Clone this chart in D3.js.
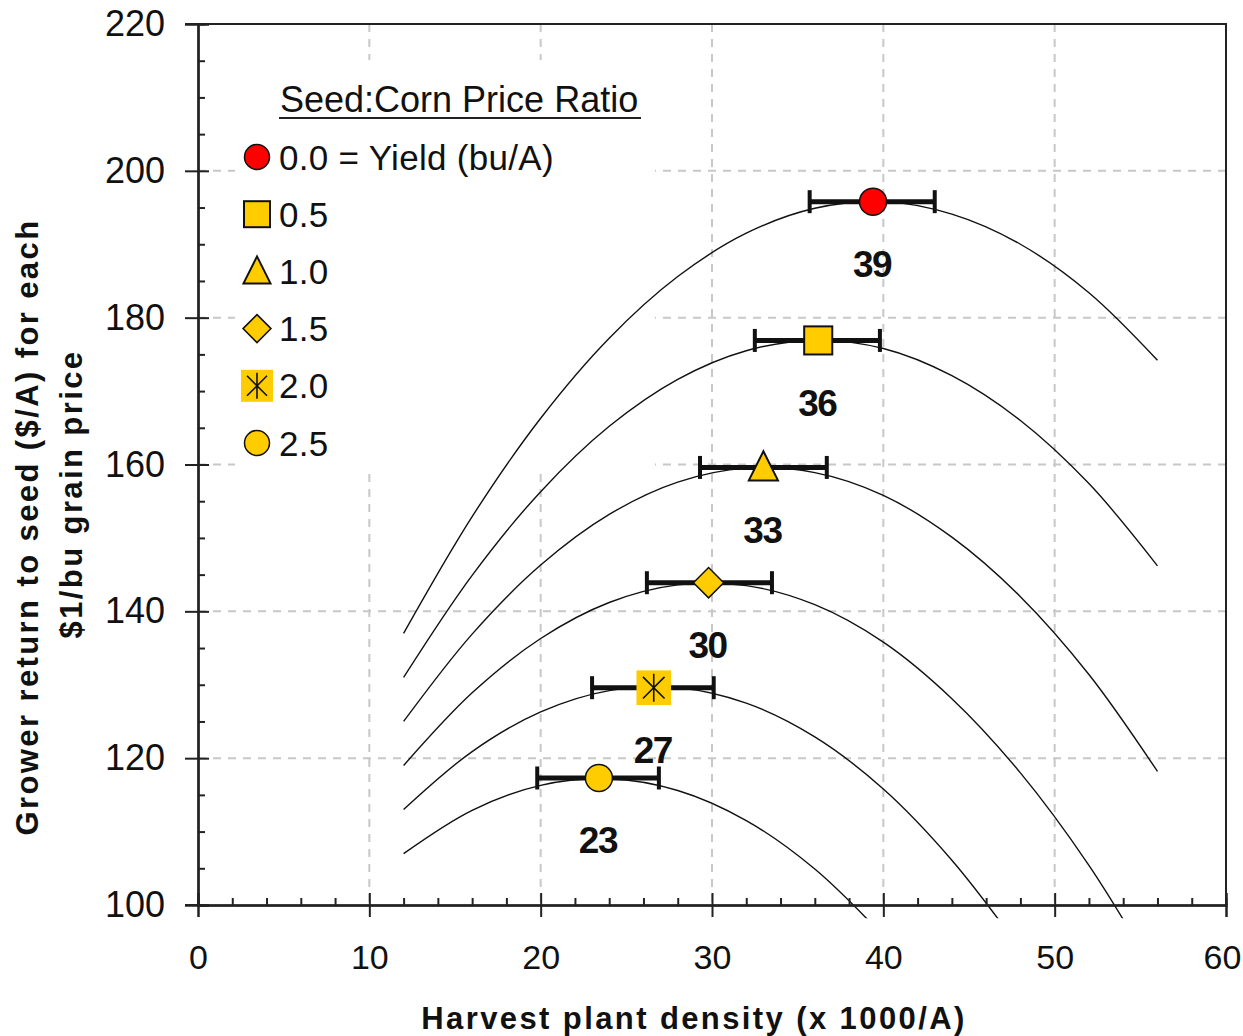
<!DOCTYPE html>
<html>
<head>
<meta charset="utf-8">
<script src="https://cdn.jsdelivr.net/npm/d3@7"></script>
<style>
  html, body { margin: 0; padding: 0; background: #fff; }
  svg { display: block; }
  text { font-family: "Liberation Sans", Arial, sans-serif; fill: #111; }
</style>
</head>
<body>
<svg id="chart" width="1243" height="1036"></svg>
<script>
// Harvest plant density (x 1000/A) where each return curve is sampled
const density = [12, 16, 20, 24, 28, 32, 36, 40, 44, 48, 52, 56];

// Grower return to seed ($/A per $1/bu grain) for each seed:corn price ratio
const return00 = [137.0, 152.9, 166.3, 177.2, 185.6, 191.5, 194.9, 195.8, 194.1, 190.0, 183.4, 174.2];
const return05 = [131.0, 144.9, 156.3, 165.2, 171.6, 175.5, 176.9, 175.8, 172.1, 166.0, 157.4, 146.2];
const return10 = [125.0, 136.9, 146.3, 153.2, 157.6, 159.5, 158.9, 155.8, 150.1, 142.0, 131.4, 118.2];
const return15 = [119.0, 128.9, 136.3, 141.2, 143.6, 143.5, 140.9, 135.8, 128.1, 118.0, 105.4, 90.2];
const return20 = [113.0, 120.9, 126.3, 129.2, 129.6, 127.5, 122.9, 115.8, 106.1, 94.0, null, null];
const return25 = [107.0, 112.9, 116.3, 117.2, 115.6, 111.5, 104.9, 95.8, null, null, null, null];
const returnCurves = [return00, return05, return10, return15, return20, return25];

// Economic optimum density, its return, and the confidence interval on density
const legendLabels = ["0.0 = Yield (bu/A)", "0.5", "1.0", "1.5", "2.0", "2.5"];
const optDensity = [39.4, 36.2, 33.0, 29.8, 26.6, 23.4];
const optReturn = [195.8, 176.9, 159.6, 143.9, 129.6, 117.3];
const ciLow = [35.7, 32.5, 29.3, 26.2, 23.0, 19.8];
const ciHigh = [43.0, 39.8, 36.7, 33.5, 30.1, 26.9];

// Axis ticks
const xTicks = [0, 10, 20, 30, 40, 50, 60];
const yTicks = [100, 120, 140, 160, 180, 200, 220];

const svg = d3.select("#chart");
const pL = 198, pR = 1226, pT = 24, pB = 905;
const x = d3.scaleLinear().domain([0, 60]).range([pL, pR]);
const y = d3.scaleLinear().domain([100, 220]).range([pB, pT]);

const YELLOW = "#ffcc00";

// Dashed grid
const grid = svg.append("g").attr("stroke", "#c8c8c8").attr("stroke-width", 2)
  .attr("stroke-dasharray", "8,7");
grid.selectAll("line.gx").data(xTicks.slice(1, -1)).join("line").attr("class", "gx")
  .attr("x1", d => x(d)).attr("x2", d => x(d)).attr("y1", pT).attr("y2", pB);
grid.selectAll("line.gy").data(yTicks.slice(1, -1)).join("line").attr("class", "gy")
  .attr("y1", d => y(d)).attr("y2", d => y(d)).attr("x1", pL).attr("x2", pR);

// Legend background
svg.append("rect").attr("x", 235).attr("y", 60).attr("width", 420).attr("height", 408)
  .attr("fill", "#fff");

// Return curves
svg.append("clipPath").attr("id", "plotClip").append("rect")
  .attr("x", pL).attr("y", pT).attr("width", pR - pL).attr("height", y(98.2) - pT);

const line = d3.line()
  .defined(d => d[1] != null)
  .x(d => x(d[0])).y(d => y(d[1]))
  .curve(d3.curveCatmullRom.alpha(0.5));

svg.append("g").attr("clip-path", "url(#plotClip)")
  .selectAll("path").data(returnCurves).join("path")
  .attr("d", vals => line(density.map((d, i) => [d, vals[i]])))
  .attr("fill", "none").attr("stroke", "#111").attr("stroke-width", 1.4);

// Frame
svg.append("path")
  .attr("d", `M${pL},${pT}H${pR}V${pB}`)
  .attr("fill", "none").attr("stroke", "#222").attr("stroke-width", 2);

// Axes
const yAxis = svg.append("g").attr("transform", `translate(${pL},0)`)
  .call(d3.axisLeft(y).tickValues(yTicks).tickSize(13).tickPadding(20).tickFormat(d3.format("d")));
const yAxisIn = svg.append("g").attr("transform", `translate(${pL},0)`)
  .call(d3.axisRight(y).tickValues(yTicks).tickSize(11).tickFormat(""));
const yMinor = svg.append("g").attr("transform", `translate(${pL},0)`)
  .call(d3.axisRight(y).tickValues(d3.range(105, 220, 5).filter(v => v % 20 !== 0)).tickSize(7).tickFormat(""));

const xAxis = svg.append("g").attr("transform", `translate(0,${pB})`)
  .call(d3.axisBottom(x).tickValues(xTicks).tickSize(12).tickPadding(28).tickFormat(d3.format("d")));
const xAxisIn = svg.append("g").attr("transform", `translate(0,${pB})`)
  .call(d3.axisTop(x).tickValues(xTicks).tickSize(12).tickFormat(""));
const xMinor = svg.append("g").attr("transform", `translate(0,${pB})`)
  .call(d3.axisTop(x).tickValues(d3.range(2, 60, 2).filter(v => v % 10 !== 0)).tickSize(7).tickFormat(""));

[yAxis, yAxisIn, yMinor, xAxis, xAxisIn, xMinor].forEach(g => {
  g.select(".domain").attr("stroke", "#222").attr("stroke-width", 2);
  g.selectAll(".tick line").attr("stroke", "#222").attr("stroke-width", 2);
  g.selectAll(".tick text")
    .attr("font-family", "'Liberation Sans', Arial, sans-serif").attr("fill", "#111");
});
yAxis.selectAll(".tick text").attr("font-size", "36px");
xAxis.selectAll(".tick text").attr("font-size", "34px");
// keep the last density label inside the page edge
xAxis.selectAll(".tick text").filter(d => d === 60).attr("x", -4);

// axis line stubs reaching out to the left-hand ticks
svg.append("line").attr("x1", 185).attr("x2", pL).attr("y1", pB).attr("y2", pB)
  .attr("stroke", "#222").attr("stroke-width", 2);
svg.append("line").attr("x1", 185).attr("x2", pL).attr("y1", pT).attr("y2", pT)
  .attr("stroke", "#222").attr("stroke-width", 2);

// Axis titles
svg.append("text")
  .attr("x", (pL + pR) / 2 - 18).attr("y", 1029)
  .attr("text-anchor", "middle").attr("font-size", "31px").attr("font-weight", "bold")
  .attr("letter-spacing", "2.4px")
  .text("Harvest plant density (x 1000/A)");

svg.append("text")
  .attr("transform", "translate(38,527) rotate(-90)")
  .attr("text-anchor", "middle").attr("font-size", "31px").attr("font-weight", "bold")
  .attr("letter-spacing", "2.4px")
  .text("Grower return to seed ($/A) for each");
svg.append("text")
  .attr("transform", "translate(82,494) rotate(-90)")
  .attr("text-anchor", "middle").attr("font-size", "31px").attr("font-weight", "bold")
  .attr("letter-spacing", "2.4px")
  .text("$1/bu grain price");

// Marker shapes for each price ratio
function drawMarker(g, i, s) {
  const k = s || 1;
  if (i === 0) {
    g.append("circle").attr("r", 12.5 * k).attr("fill", "#ff0000").attr("stroke", "#111").attr("stroke-width", 1.5);
  } else if (i === 1) {
    g.append("rect").attr("x", -13 * k).attr("y", -13 * k).attr("width", 26 * k).attr("height", 26 * k)
      .attr("fill", YELLOW).attr("stroke", "#111").attr("stroke-width", 2);
  } else if (i === 2) {
    g.append("path").attr("d", `M0,${-15 * k}L${13.5 * k},${12 * k}H${-13.5 * k}Z`)
      .attr("fill", YELLOW).attr("stroke", "#111").attr("stroke-width", 2);
  } else if (i === 3) {
    g.append("path").attr("d", `M0,${-14 * k}L${14 * k},0L0,${14 * k}L${-14 * k},0Z`)
      .attr("fill", YELLOW).attr("stroke", "#111").attr("stroke-width", 1.5);
  } else if (i === 4) {
    g.append("rect").attr("x", -16 * k).attr("y", -16 * k).attr("width", 32 * k).attr("height", 32 * k)
      .attr("fill", YELLOW);
    const a = 10 * k;
    g.append("path").attr("d", `M${-a},${-a}L${a},${a}M${-a},${a}L${a},${-a}M0,${-13 * k}V${13 * k}`)
      .attr("stroke", "#111").attr("stroke-width", 1.6);
  } else {
    g.append("circle").attr("r", 12.5 * k).attr("fill", YELLOW).attr("stroke", "#111").attr("stroke-width", 1.5);
  }
}

// Confidence intervals
const ci = svg.append("g").attr("stroke", "#111");
optDensity.forEach((d, i) => {
  const yy = y(optReturn[i]);
  ci.append("line").attr("x1", x(ciLow[i])).attr("x2", x(ciHigh[i])).attr("y1", yy).attr("y2", yy)
    .attr("stroke-width", 5);
  [ciLow[i], ciHigh[i]].forEach(v => {
    ci.append("line").attr("x1", x(v)).attr("x2", x(v)).attr("y1", yy - 11.5).attr("y2", yy + 11.5)
      .attr("stroke-width", 4);
  });
});

// Optimum markers and labels
const fmt = d3.format(".0f");
optDensity.forEach((d, i) => {
  const g = svg.append("g").attr("transform", `translate(${x(d)},${y(optReturn[i])})`);
  drawMarker(g, i, 1.08);
  svg.append("text")
    .attr("x", x(d) - 1).attr("y", y(optReturn[i]) + 62).attr("dy", "0.36em")
    .attr("text-anchor", "middle").attr("font-size", "37px").attr("font-weight", "bold")
    .attr("letter-spacing", "-1.5px")
    .text(fmt(d));
});

// Legend
const legend = svg.append("g");
legend.append("text").attr("x", 280).attr("y", 112).attr("font-size", "36px")
  .text("Seed:Corn Price Ratio");
legend.append("line").attr("x1", 279).attr("x2", 641).attr("y1", 118).attr("y2", 118)
  .attr("stroke", "#222").attr("stroke-width", 2);
legendLabels.forEach((lab, i) => {
  const yy = 157 + i * 57.2;
  const g = legend.append("g").attr("transform", `translate(257,${yy})`);
  drawMarker(g, i, 1);
  legend.append("text").attr("x", 279).attr("y", yy).attr("dy", "0.36em")
    .attr("font-size", "35px").attr("letter-spacing", "0.3px").text(lab);
});
</script>
</body>
</html>
